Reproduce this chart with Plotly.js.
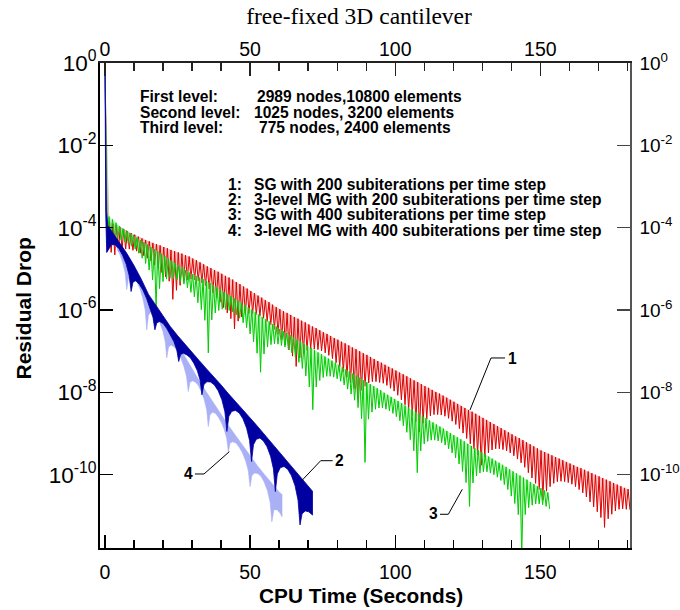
<!DOCTYPE html>
<html><head><meta charset="utf-8">
<script src="https://cdn.plot.ly/plotly-3.0.1.min.js"></script>
<style>html,body{margin:0;padding:0;background:#fff}#chart{width:680px;height:610px}</style>
</head><body><div id="chart"></div>
<script>
// ---------------- data (residuals stored as log10 values) ----------------
// Series 1: SG, 200 subiterations per time step (red) - one entry per time step
const redTime = [0, 1.5, 2.75, 4, 5.25, 6.5, 7.75, 9, 10.25, 11.5, 12.75, 14, 15.25, 16.5, 17.75, 19, 20.25, 21.5, 22.75, 24, 25.25, 26.5, 27.75, 29, 30.25, 31.5, 32.75, 34, 35.25, 36.5, 37.75, 39, 40.25, 41.5, 42.75, 44, 45.25, 46.5, 47.75, 49, 50.25, 51.5, 52.75, 54, 55.25, 56.5, 57.75, 59, 60.25, 61.5, 62.75, 64, 65.25, 66.5, 67.75, 69, 70.25, 71.5, 72.75, 74, 75.25, 76.5, 77.75, 79, 80.25, 81.5, 82.75, 84, 85.25, 86.5, 87.75, 89, 90.25, 91.5, 92.75, 94, 95.25, 96.5, 97.75, 99, 100.25, 101.5, 102.75, 104, 105.25, 106.5, 107.75, 109, 110.25, 111.5, 112.75, 114, 115.25, 116.5, 117.75, 119, 120.25, 121.5, 122.75, 124, 125.25, 126.5, 127.75, 129, 130.25, 131.5, 132.75, 134, 135.25, 136.5, 137.75, 139, 140.25, 141.5, 142.75, 144, 145.25, 146.5, 147.75, 149, 150.25, 151.5, 152.75, 154, 155.25, 156.5, 157.75, 159, 160.25, 161.5, 162.75, 164, 165.25, 166.5, 167.75, 169, 170.25, 171.5, 172.75, 174, 175.25, 176.5, 177.75, 179, 180.25];
const redStart = [0, -3.85, -3.90, -3.94, -3.99, -4.04, -4.08, -4.13, -4.17, -4.22, -4.26, -4.30, -4.33, -4.37, -4.40, -4.43, -4.47, -4.50, -4.54, -4.57, -4.60, -4.63, -4.67, -4.70, -4.75, -4.79, -4.84, -4.89, -4.94, -4.98, -5.03, -5.07, -5.12, -5.17, -5.21, -5.26, -5.32, -5.37, -5.43, -5.48, -5.54, -5.59, -5.65, -5.70, -5.76, -5.81, -5.87, -5.93, -5.98, -6.03, -6.07, -6.12, -6.17, -6.21, -6.26, -6.30, -6.35, -6.40, -6.44, -6.49, -6.54, -6.58, -6.63, -6.68, -6.72, -6.77, -6.81, -6.86, -6.91, -6.95, -7.00, -7.05, -7.09, -7.14, -7.19, -7.24, -7.28, -7.33, -7.38, -7.42, -7.47, -7.52, -7.56, -7.61, -7.66, -7.71, -7.75, -7.80, -7.85, -7.89, -7.94, -7.99, -8.03, -8.08, -8.13, -8.18, -8.23, -8.28, -8.33, -8.38, -8.43, -8.47, -8.52, -8.57, -8.62, -8.67, -8.72, -8.77, -8.82, -8.87, -8.92, -8.97, -9.02, -9.07, -9.11, -9.16, -9.21, -9.26, -9.31, -9.36, -9.41, -9.45, -9.49, -9.53, -9.57, -9.61, -9.65, -9.69, -9.73, -9.77, -9.81, -9.84, -9.88, -9.92, -9.96, -10.00, -10.04, -10.08, -10.12, -10.16, -10.20, -10.24, -10.28, -10.32, -10.35];
const redEnd = [-4.20, -4.60, -4.66, -4.58, -4.53, -4.52, -4.52, -4.55, -4.57, -4.62, -4.68, -4.74, -4.81, -4.90, -4.99, -5.09, -5.19, -5.30, -5.74, -5.52, -5.40, -5.31, -5.27, -5.25, -5.27, -5.29, -5.34, -5.41, -5.49, -5.58, -5.69, -5.81, -5.94, -6.07, -6.21, -6.46, -6.27, -6.17, -6.11, -6.08, -6.09, -6.11, -6.15, -6.20, -6.28, -6.36, -6.47, -6.59, -6.72, -6.85, -6.97, -7.12, -7.37, -7.16, -7.06, -6.98, -6.95, -6.95, -6.96, -6.99, -7.04, -7.10, -7.18, -7.28, -7.38, -7.51, -7.63, -7.76, -7.91, -8.15, -7.95, -7.85, -7.77, -7.74, -7.74, -7.76, -7.78, -7.83, -7.90, -7.97, -8.07, -8.18, -8.30, -8.43, -8.56, -8.71, -8.95, -8.75, -8.65, -8.57, -8.54, -8.54, -8.55, -8.58, -8.63, -8.70, -8.78, -8.88, -8.99, -9.12, -9.25, -9.37, -9.52, -9.77, -9.57, -9.47, -9.40, -9.37, -9.37, -9.39, -9.42, -9.47, -9.54, -9.62, -9.71, -9.82, -9.95, -10.08, -10.21, -10.36, -10.61, -10.40, -10.29, -10.21, -10.17, -10.16, -10.17, -10.19, -10.23, -10.29, -10.36, -10.44, -10.54, -10.66, -10.78, -10.90, -11.04, -11.28, -11.07, -10.96, -10.88, -10.84, -10.83, -10.84, -10.85];

// Series 3: SG, 400 subiterations per time step (green)
const greenTime = [0, 1.4, 2.6, 3.8, 5.0, 6.2, 7.4, 8.6, 9.8, 11.0, 12.2, 13.4, 14.6, 15.8, 17.0, 18.2, 19.4, 20.6, 21.8, 23.0, 24.2, 25.4, 26.6, 27.8, 29.0, 30.2, 31.4, 32.6, 33.8, 35.0, 36.2, 37.4, 38.6, 39.8, 41.0, 42.2, 43.4, 44.6, 45.8, 47.0, 48.2, 49.4, 50.6, 51.8, 53.0, 54.2, 55.4, 56.6, 57.8, 59.0, 60.2, 61.4, 62.6, 63.8, 65.0, 66.2, 67.4, 68.6, 69.8, 71.0, 72.2, 73.4, 74.6, 75.8, 77.0, 78.2, 79.4, 80.6, 81.8, 83.0, 84.2, 85.4, 86.6, 87.8, 89.0, 90.2, 91.4, 92.6, 93.8, 95.0, 96.2, 97.4, 98.6, 99.8, 101.0, 102.2, 103.4, 104.6, 105.8, 107.0, 108.2, 109.4, 110.6, 111.8, 113.0, 114.2, 115.4, 116.6, 117.8, 119.0, 120.2, 121.4, 122.6, 123.8, 125.0, 126.2, 127.4, 128.6, 129.8, 131.0, 132.2, 133.4, 134.6, 135.8, 137.0, 138.2, 139.4, 140.6, 141.8, 143.0, 144.2, 145.4, 146.6, 147.8, 149.0, 150.2, 151.4, 152.6];
const greenStart = [0, -3.73, -3.80, -3.88, -3.96, -4.02, -4.07, -4.13, -4.18, -4.24, -4.30, -4.35, -4.41, -4.47, -4.52, -4.58, -4.63, -4.69, -4.75, -4.80, -4.86, -4.92, -4.97, -5.03, -5.09, -5.13, -5.17, -5.21, -5.25, -5.29, -5.34, -5.39, -5.45, -5.50, -5.56, -5.61, -5.66, -5.72, -5.77, -5.83, -5.88, -5.93, -5.99, -6.05, -6.11, -6.17, -6.22, -6.28, -6.34, -6.40, -6.46, -6.51, -6.56, -6.61, -6.66, -6.72, -6.77, -6.82, -6.87, -6.92, -6.97, -7.03, -7.08, -7.13, -7.18, -7.23, -7.28, -7.33, -7.39, -7.44, -7.49, -7.54, -7.59, -7.64, -7.70, -7.75, -7.80, -7.85, -7.90, -7.95, -8.01, -8.06, -8.11, -8.16, -8.21, -8.26, -8.32, -8.37, -8.42, -8.47, -8.52, -8.57, -8.63, -8.68, -8.73, -8.78, -8.83, -8.88, -8.94, -8.99, -9.04, -9.09, -9.14, -9.19, -9.25, -9.30, -9.35, -9.40, -9.45, -9.50, -9.56, -9.61, -9.66, -9.71, -9.76, -9.81, -9.87, -9.92, -9.97, -10.02, -10.07, -10.12, -10.18, -10.23, -10.28, -10.33, -10.38, -10.43];
const greenEnd = [-4.37, -4.27, -4.25, -4.26, -4.30, -4.34, -4.38, -4.45, -4.52, -4.62, -4.74, -4.87, -5.03, -5.27, -5.92, -5.48, -5.31, -5.25, -5.23, -5.23, -5.26, -5.31, -5.37, -5.46, -5.57, -5.68, -5.82, -5.99, -6.25, -7.04, -6.24, -6.07, -6.01, -5.98, -5.99, -6.01, -6.05, -6.12, -6.20, -6.31, -6.43, -6.58, -6.77, -7.05, -7.51, -7.07, -6.90, -6.84, -6.82, -6.83, -6.86, -6.90, -6.96, -7.04, -7.14, -7.27, -7.42, -7.60, -7.87, -8.42, -7.87, -7.71, -7.64, -7.61, -7.61, -7.63, -7.67, -7.73, -7.82, -7.92, -8.04, -8.19, -8.37, -8.64, -9.70, -8.65, -8.48, -8.41, -8.38, -8.38, -8.41, -8.45, -8.51, -8.59, -8.69, -8.81, -8.97, -9.15, -9.42, -9.95, -9.42, -9.25, -9.19, -9.16, -9.16, -9.18, -9.22, -9.28, -9.37, -9.47, -9.59, -9.74, -9.92, -10.19, -10.77, -10.20, -10.03, -9.96, -9.93, -9.93, -9.96, -10.00, -10.06, -10.14, -10.24, -10.36, -10.52, -10.70, -10.97, -11.97, -10.97, -10.80, -10.74, -10.71, -10.71, -10.73, -10.77, -10.83];

// Series 2: 3-level MG, 200 subiterations (dark blue) - upper and lower envelope of the dense band
const mg200UpperTime = [0, 0.5, 1, 3, 5, 7.5, 10, 12.5, 15, 17.5, 20, 22.5, 25, 27.5, 30, 32.5, 35, 37.5, 40, 42.5, 45, 47.5, 50, 52.5, 55, 57.5, 60, 62.5, 65, 67.5, 70, 71.5];
const mg200Upper = [0, -3.6, -3.95, -4.15, -4.35, -4.62, -4.92, -5.25, -5.62, -5.88, -6.12, -6.40, -6.62, -6.83, -7.03, -7.23, -7.43, -7.62, -7.82, -8.03, -8.22, -8.42, -8.62, -8.82, -9.03, -9.23, -9.44, -9.65, -9.85, -10.06, -10.27, -10.40];
const mg200LowerTime = [0.02, 0.25, 0.6, 1.27, 2.28, 3.54, 4.8, 6.06, 7.32, 8.33, 9.0, 9.66, 10.64, 11.87, 13.1, 14.33, 15.56, 16.54, 17.2, 17.86, 18.84, 20.07, 21.3, 22.53, 23.76, 24.74, 25.4, 26.04, 27.0, 28.2, 29.4, 30.6, 31.8, 32.76, 33.4, 34.09, 35.12, 36.41, 37.7, 38.99, 40.28, 41.31, 42.0, 42.68, 43.7, 44.98, 46.25, 47.53, 48.8, 49.82, 50.5, 51.16, 52.14, 53.37, 54.6, 55.83, 57.06, 58.04, 58.7, 59.38, 60.4, 61.68, 62.95, 64.23, 65.5, 66.52, 67.2, 67.9, 69.0, 70.2, 71.5];
const mg200Lower = [0, -3.6, -4.60, -4.53, -4.41, -4.42, -4.51, -4.67, -4.89, -5.16, -5.55, -5.32, -5.29, -5.38, -5.52, -5.72, -5.95, -6.18, -6.48, -6.31, -6.28, -6.33, -6.45, -6.60, -6.77, -6.97, -7.25, -7.08, -7.05, -7.09, -7.16, -7.29, -7.47, -7.70, -8.06, -7.81, -7.74, -7.75, -7.82, -7.96, -8.18, -8.47, -8.95, -8.58, -8.46, -8.44, -8.50, -8.64, -8.87, -9.17, -9.68, -9.27, -9.14, -9.11, -9.18, -9.32, -9.55, -9.86, -10.41, -9.98, -9.83, -9.80, -9.87, -10.02, -10.27, -10.62, -11.22, -10.95, -10.88, -10.90, -10.98];

// Series 4: 3-level MG, 400 subiterations (light blue)
const mg400UpperTime = [0, 0.5, 1, 3, 5, 7.5, 10, 12.5, 15, 17.5, 20, 22.5, 25, 27.5, 30, 32.5, 35, 37.5, 40, 42.5, 45, 47.5, 50, 52.5, 55, 57.5, 60, 61];
const mg400Upper = [0, -3.6, -3.95, -4.2, -4.45, -4.75, -5.05, -5.35, -5.65, -5.95, -6.25, -6.55, -6.85, -7.15, -7.45, -7.72, -8.0, -8.27, -8.55, -8.80, -9.05, -9.30, -9.55, -9.78, -10.0, -10.22, -10.42, -10.48];
const mg400LowerTime = [0.02, 0.25, 0.6, 1.15, 1.98, 3.02, 4.05, 5.09, 6.12, 6.95, 7.5, 8.05, 8.88, 9.92, 10.95, 11.99, 13.02, 13.85, 14.4, 14.95, 15.78, 16.82, 17.85, 18.89, 19.92, 20.75, 21.3, 21.89, 22.78, 23.89, 25.0, 26.11, 27.22, 28.11, 28.7, 29.25, 30.08, 31.12, 32.15, 33.19, 34.22, 35.05, 35.6, 36.15, 36.98, 38.02, 39.05, 40.09, 41.12, 41.95, 42.5, 43.1, 44.0, 45.13, 46.25, 47.38, 48.5, 49.4, 50.0, 50.6, 51.5, 52.63, 53.75, 54.88, 56.0, 56.9, 57.5, 58.2, 59.3, 60.3, 61];
const mg400Lower = [0, -3.6, -4.60, -4.48, -4.38, -4.39, -4.48, -4.64, -4.85, -5.10, -5.50, -5.24, -5.19, -5.22, -5.31, -5.47, -5.71, -6.00, -6.48, -6.13, -6.04, -6.05, -6.14, -6.30, -6.51, -6.76, -7.16, -6.90, -6.85, -6.90, -7.00, -7.16, -7.38, -7.62, -7.98, -7.76, -7.72, -7.75, -7.83, -7.98, -8.18, -8.43, -8.83, -8.55, -8.48, -8.51, -8.60, -8.73, -8.91, -9.12, -9.44, -9.23, -9.20, -9.23, -9.33, -9.47, -9.67, -9.91, -10.29, -10.02, -9.96, -9.97, -10.04, -10.18, -10.39, -10.67, -11.14, -10.85, -10.85, -10.93, -11.02];

// ticks and labels
const xTickVals = [0, 50, 100, 150];
const xTickText = ['0', '50', '100', '150'];
const xMinorVals = [0, 10, 20, 30, 40, 50, 60, 70, 80, 90, 100, 110, 120, 130, 140, 150, 160, 170, 180];
const yTickVals = [1, 1e-2, 1e-4, 1e-6, 1e-8, 1e-10];
const yTickText = ['10<sup>0</sup>', '10<sup>-2</sup>', '10<sup>-4</sup>', '10<sup>-6</sup>', '10<sup>-8</sup>', '10<sup>-10</sup>'];
const meshLevels = ['First level:', 'Second level:', 'Third level:'];
const meshSizes = ['2989 nodes,10800 elements', '1025 nodes, 3200 elements', '775 nodes, 2400 elements'];
const seriesIds = ['1:', '2:', '3:', '4:'];
const seriesNames = ['SG with 200 subiterations per time step', '3-level MG with 200 subiterations per time step', 'SG with 400 subiterations per time step', '3-level MG with 400 subiterations per time step'];
const calloutIds = ['1', '2', '3', '4'];
const chartTitle = 'free-fixed 3D cantilever';
const xTitle = 'CPU Time (Seconds)';
const yTitle = 'Residual Drop';

// ---------------- build traces ----------------
const p10 = v => Math.pow(10, v);
function sawtooth(times, starts, ends) {
  const xs = [], ys = [];
  for (let i = 0; i < times.length; i++) {
    const t = times[i];
    const next = i + 1 < times.length ? times[i + 1] : t + (t - times[i - 1]);
    xs.push(t); ys.push(p10(starts[i]));
    xs.push(t + 0.5 * (next - t)); ys.push(p10(ends[i]));
  }
  return {x: xs, y: ys};
}
function band(upT, up, loT, lo) {
  const x = upT.slice(), y = up.map(p10);
  for (let i = loT.length - 1; i >= 0; i--) { x.push(loT[i]); y.push(p10(lo[i])); }
  return {x, y};
}
const redSaw = sawtooth(redTime, redStart, redEnd);
const greenSaw = sawtooth(greenTime, greenStart, greenEnd);
const darkBand = band(mg200UpperTime, mg200Upper, mg200LowerTime, mg200Lower);
const lightBand = band(mg400UpperTime, mg400Upper, mg400LowerTime, mg400Lower);

const RED = 'rgb(222,0,0)', GREEN = 'rgb(0,205,0)', DARK = 'rgb(0,0,160)', LIGHT = 'rgb(170,176,246)';
const traces = [
  {x: redTime, y: redStart.map(p10), mode: 'lines', line: {width: 0, color: RED}, hoverinfo: 'skip'},
  {x: redSaw.x, y: redSaw.y, mode: 'lines', line: {width: 1, color: RED}, fill: 'tonexty', fillcolor: 'rgba(236,120,120,0.45)', hoverinfo: 'skip'},
  {x: greenTime, y: greenStart.map(p10), mode: 'lines', line: {width: 0, color: GREEN}, hoverinfo: 'skip'},
  {x: greenSaw.x, y: greenSaw.y, mode: 'lines', line: {width: 1, color: GREEN}, fill: 'tonexty', fillcolor: 'rgba(120,226,120,0.45)', hoverinfo: 'skip'},
  {x: lightBand.x, y: lightBand.y, mode: 'lines', line: {width: 0.6, color: LIGHT}, fill: 'toself', fillcolor: LIGHT, hoverinfo: 'skip'},
  {x: darkBand.x, y: darkBand.y, mode: 'lines', line: {width: 0.8, color: DARK}, fill: 'toself', fillcolor: DARK, hoverinfo: 'skip'},
  {x: [xTickVals[0]], y: [yTickVals[0]], xaxis: 'x2', yaxis: 'y2', mode: 'markers', marker: {opacity: 0, size: 1}, hoverinfo: 'skip'}
];

// ---------------- layout ----------------
const L = 100, R = 630, T = 63, B = 548;
const px = v => (v - L) / (R - L);
const py = v => (B - v) / (B - T);
const SANS = 'Liberation Sans, Arial, Helvetica, sans-serif';
const tickFontX = {family: SANS, size: 19.5, color: '#000'};
const common = {showgrid: false, zeroline: false, showline: true, ticks: 'inside', fixedrange: true};
const xRange = [-1.72, 180.9];
const yRange = [-11.78, 0];

const annotations = [];
const label = (text, x, y, size, anchor) => annotations.push({text: text, xref: 'paper', yref: 'paper', x: px(x), y: py(y), xanchor: anchor || 'left', yanchor: 'middle', showarrow: false, borderpad: 0, font: {family: SANS, size: size, color: '#000', weight: 700}});
const levelY = [96.7, 112.7, 127.3];
const sizeX = [256, 253.3, 257.7];
meshLevels.forEach((t, i) => { label(t, 139, levelY[i], 15.6); label(meshSizes[i], sizeX[i], levelY[i], 15.6); });
const seriesY = [184.3, 199.7, 214.7, 230];
seriesIds.forEach((t, i) => { label(t, 226.7, seriesY[i], 15.6); label(seriesNames[i], 252.7, seriesY[i], 15.6); });
const calloutPos = [[512.7, 358], [339, 460.5], [433, 513.5], [188.5, 473]];
calloutIds.forEach((t, i) => label(t, calloutPos[i][0], calloutPos[i][1], 15.6, 'center'));
annotations.push({text: xTitle, xref: 'paper', yref: 'paper', x: px(360.5), y: py(595.5), xanchor: 'center', yanchor: 'middle', showarrow: false, font: {family: SANS, size: 20.8, color: '#000', weight: 700}});
annotations.push({text: yTitle, xref: 'paper', yref: 'paper', x: px(23), y: py(308.5), xanchor: 'center', yanchor: 'middle', textangle: -90, showarrow: false, font: {family: SANS, size: 21, color: '#000', weight: 700}});

const leaders = [
  [[505, 358], [491, 358], [470, 410]],
  [[332.7, 460.7], [320.7, 460.7], [301.7, 480.7]],
  [[440, 514.3], [448.3, 514.3], [462.3, 489.3]],
  [[195, 474], [204, 474], [229.3, 451.7]]
];
const shapes = leaders.map(pts => ({
  type: 'path', xref: 'paper', yref: 'paper',
  path: pts.map((p, i) => (i ? 'L' : 'M') + px(p[0]).toFixed(4) + ',' + py(p[1]).toFixed(4)).join(' '),
  line: {color: '#000', width: 1}
}));

const layout = {
  width: 680, height: 610,
  margin: {l: L, r: 680 - R, t: T, b: 610 - B, pad: 0},
  paper_bgcolor: '#fff', plot_bgcolor: '#fff',
  showlegend: false, hovermode: false,
  title: {text: chartTitle, font: {family: 'Liberation Serif, Times New Roman, serif', size: 23.5, color: '#000'}, xref: 'paper', x: px(359), xanchor: 'center', yref: 'container', y: 1 - 16 / 610, yanchor: 'middle'},
  xaxis: Object.assign({}, common, {range: xRange, linecolor: '#000', linewidth: 2, tickcolor: '#000', tickwidth: 1.3, ticklen: 13, tickmode: 'array', tickvals: xTickVals, ticktext: xTickText, tickfont: tickFontX, ticklabelstandoff: 6,
    minor: {tickmode: 'array', tickvals: xMinorVals, ticks: 'inside', ticklen: 8, tickwidth: 1.3, tickcolor: '#000', showgrid: false}}),
  xaxis2: Object.assign({}, common, {overlaying: 'x', side: 'top', range: xRange, linecolor: '#222', linewidth: 1.6, tickcolor: '#222', tickwidth: 1.3, ticklen: 13, tickmode: 'array', tickvals: xTickVals, ticktext: xTickText, tickfont: tickFontX, ticklabelstandoff: -2,
    minor: {tickmode: 'array', tickvals: xMinorVals, ticks: 'inside', ticklen: 8, tickwidth: 1.3, tickcolor: '#222', showgrid: false}}),
  yaxis: Object.assign({}, common, {type: 'log', range: yRange, linecolor: '#000', linewidth: 2, tickcolor: '#000', tickwidth: 1.3, ticklen: 13, tickmode: 'array', tickvals: yTickVals, ticktext: yTickText, tickfont: {family: SANS, size: 22.5, color: '#000'}, ticklabelstandoff: -3}),
  yaxis2: Object.assign({}, common, {type: 'log', overlaying: 'y', side: 'right', range: yRange, linecolor: '#555', linewidth: 1.6, tickcolor: '#444', tickwidth: 1.3, ticklen: 13, tickmode: 'array', tickvals: yTickVals, ticktext: yTickText, tickfont: {family: SANS, size: 19, color: '#000'}, ticklabelstandoff: 4}),
  annotations: annotations,
  shapes: shapes
};

Plotly.newPlot('chart', traces, layout, {staticPlot: true, displayModeBar: false});
</script>
</body></html>
